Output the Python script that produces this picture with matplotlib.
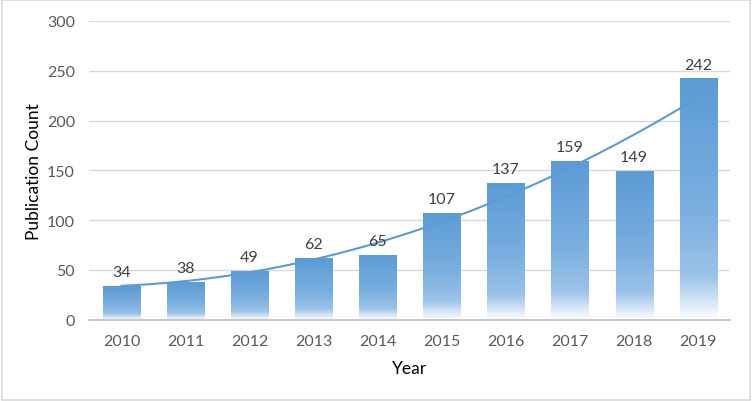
import numpy as np
import matplotlib
matplotlib.use("Agg")
import matplotlib.pyplot as plt
from matplotlib.colors import LinearSegmentedColormap
from matplotlib.patches import Rectangle

years = ["2010", "2011", "2012", "2013", "2014", "2015", "2016", "2017", "2018", "2019"]
counts = [34, 38, 49, 62, 65, 107, 137, 159, 149, 242]

plt.rcParams['font.family'] = ['Lato', 'DejaVu Sans']

fig = plt.figure(figsize=(7.52, 4.02), dpi=100)
ax = fig.add_axes([0.119, 0.2022, 0.852, 0.7433])

x = np.arange(len(years))
width = 0.58
cmap = LinearSegmentedColormap.from_list(
    "grad", [(0.0, "#5B9BD5"), (0.55, "#7BAFE0"), (0.82, "#9CC3E8"), (1.0, "#FFFFFF")])
grad = np.linspace(0, 1, 256).reshape(-1, 1)

ax.set_xlim(-0.5, len(years) - 0.5)
ax.set_ylim(0, 300)

for xi, v in zip(x, counts):
    ax.imshow(grad, cmap=cmap, aspect='auto', extent=(xi - width / 2, xi + width / 2, 0, v),
              origin='upper', zorder=2, interpolation='bilinear')
    ax.text(xi, v + 7, str(v), ha='center', va='bottom', fontsize=11.5, color='#404040', zorder=4)

# polynomial (order 2) trendline
xs = x + 1
coef = np.polyfit(xs, counts, 2)
xt = np.linspace(1, len(years), 200)
ax.plot(xt - 1, np.polyval(coef, xt), color='#5B9BD5', lw=1.5, zorder=3)

ax.set_xlim(-0.5, len(years) - 0.5)
ax.set_ylim(0, 300)
ax.set_yticks(range(0, 301, 50))
ax.set_xticks(x)
ax.set_xticklabels(years)
ax.yaxis.grid(True, color='#D9D9D9', lw=1)
ax.set_axisbelow(True)
for s in ['top', 'right', 'left']:
    ax.spines[s].set_visible(False)
ax.spines['bottom'].set_color('#BFBFBF')
ax.spines['bottom'].set_linewidth(1.2)
ax.tick_params(axis='x', length=0, labelsize=11.5, colors='#595959', pad=10)
ax.tick_params(axis='y', length=0, labelsize=11.5, colors='#595959', pad=10.5)
ax.set_xlabel("Year", fontsize=12.5, color='#000000')
ax.set_ylabel("Publication Count", fontsize=12.5, color='#000000')
ax.xaxis.set_label_coords(0.5, -0.135)
ax.yaxis.set_label_coords(-0.074, 0.5)

fig.patches.append(Rectangle((0.002, 0.003), 0.996, 0.994, transform=fig.transFigure,
                             fill=False, edgecolor='#D9D9D9', lw=1.2))

fig.savefig("out.png", dpi=100)
